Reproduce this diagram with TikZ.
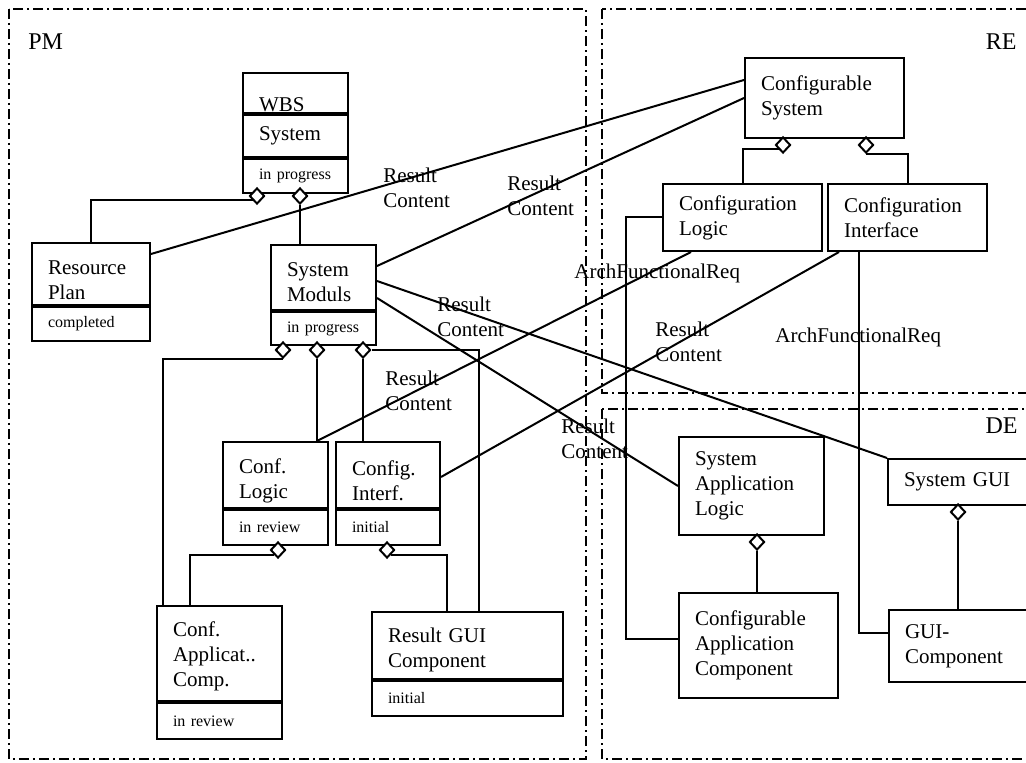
\documentclass[tikz,border=0pt]{standalone}
\usepackage{fontspec}
\setmainfont{Liberation Serif}
\usetikzlibrary{positioning,calc,shapes.geometric}
\newcommand{\boxfont}{\fontsize{10.5}{12.5}\selectfont}
\newcommand{\statfont}{\fontsize{8}{9.6}\selectfont}
\newcommand{\zonefont}{\fontsize{12}{14}\selectfont}

\begin{document}
\begin{tikzpicture}[
  x=0.5pt, y=-0.5pt,
  box/.style={draw, line width=1pt, anchor=north west, align=left,
    inner xsep=8pt, inner ysep=0pt, font=\boxfont},
  cpt/.style={box, execute at begin node={\rule{0pt}{#1}}},
  stat/.style={box, font=\statfont},
  agg/.style={draw, diamond, fill=white, line width=1pt, inner sep=0pt,
    minimum width=7.5pt, minimum height=8pt},
  lnk/.style={line width=1pt},
  lbl/.style={anchor=west, align=left, inner sep=0pt, font=\boxfont},
  frm/.style={line width=1pt, dash pattern=on 5pt off 2pt on 1pt off 2pt},
  zone/.style={font=\zonefont, inner sep=0pt}
]
\useasboundingbox (0,0) rectangle (1026,763);
\clip (0,0) rectangle (1026,763);

% ── Areas ────────────────────────────────────────────────────────────────
\draw[frm] (9,9) rectangle (586,759);
\draw[frm] (602,9) rectangle (1040,393);
\draw[frm] (602,409) rectangle (1040,759);
\node[zone, anchor=west] (pm) at (28,42) {PM};
\node[zone, anchor=east] (re) at (1017,42) {RE};
\node[zone, anchor=east] (de) at (1018,426) {DE};

% ── PM: work breakdown ───────────────────────────────────────────────────
\node[box, text width=36.5pt, minimum height=20pt, text height=19pt,
  text depth=0pt] (wbsT) at (242,72) {WBS};
\node[box, text width=36.5pt, minimum height=21pt] (wbs) at (wbsT.south west) {System};
\node[stat, text width=36.5pt, minimum height=17pt] (wbsS) at (wbs.south west) {in progress};

\node[cpt=13pt, text width=43pt, minimum height=31pt] (rp) at (31,242) {Resource\\Plan};
\node[stat, text width=43pt, minimum height=17pt] (rpS) at (rp.south west) {completed};

\node[cpt=12pt, text width=36.5pt, minimum height=32.5pt] (sm) at (270,244) {System\\Moduls};
\node[stat, text width=36.5pt, minimum height=16.5pt] (smS) at (sm.south west) {in progress};

\node[cpt=13.2pt, text width=36.5pt, minimum height=33pt] (cl) at (222,441) {Conf.\\Logic};
\node[stat, text width=36.5pt, minimum height=17.5pt] (clS) at (cl.south west) {in review};

\node[cpt=13.2pt, text width=36pt, minimum height=33pt] (ci) at (335,441) {Config.\\Interf.};
\node[stat, text width=36pt, minimum height=17.5pt] (ciS) at (ci.south west) {initial};

\node[cpt=10.2pt, text width=46.5pt, minimum height=47.5pt] (caa) at (156,605) {Conf.\\Applicat..\\Comp.};
\node[stat, text width=46.5pt, minimum height=18pt] (caaS) at (caa.south west) {in review};

\node[cpt=12.2pt, text width=79.5pt, minimum height=33.5pt] (rg) at (371,611) {Result GUI\\Component};
\node[stat, text width=79.5pt, minimum height=17.5pt] (rgS) at (rg.south west) {initial};

% ── RE: requirements ─────────────────────────────────────────────────────
\node[box, text width=63.5pt, minimum height=40pt] (cs) at (744,57) {Configurable\\System};
\node[box, text width=63.5pt, minimum height=33.5pt] (confl) at (662,183) {Configuration\\Logic};
\node[box, text width=63.5pt, minimum height=33.5pt] (confi) at (827,183) {Configuration\\Interface};

% ── DE: design ───────────────────────────────────────────────────────────
\node[box, text width=56.5pt, minimum height=49pt] (sal) at (678,436) {System\\Application\\Logic};
\node[box, text width=63.5pt, minimum height=52.5pt] (cac) at (678,592) {Configurable\\Application\\Component};
\node[box, text width=64pt, minimum height=23pt] (sg) at (887,458) {System GUI};
\node[box, text width=64pt, minimum height=36pt] (gc) at (888,609) {GUI-\\Component};

% ── Aggregations ─────────────────────────────────────────────────────────
\node[agg] (dW1) at (257,196) {};
\node[agg] (dW2) at (300,196) {};
\node[agg] (dS1) at (283,350) {};
\node[agg] (dS2) at (317,350) {};
\node[agg] (dS3) at (363,350) {};
\node[agg] (dL) at (278,550) {};
\node[agg] (dI) at (387,550) {};
\node[agg] (dC1) at (783,145) {};
\node[agg] (dC2) at (866,145) {};
\node[agg] (dA) at (757,542) {};
\node[agg] (dG) at (958,512) {};

\draw[lnk] (dW1.south west) -| (rp.north);
\draw[lnk] (dW2.south) -- (dW2.south |- sm.north);
\draw[lnk] (dS1.south) -| ($(caa.north west)+(7,0)$);
\draw[lnk] (dS2.south) -- (dS2.south |- cl.north);
\draw[lnk] (dS3.south) -- (dS3.south |- ci.north);
\draw[lnk] (dS3.east) -| ($(rg.north west)+(108,0)$);
\draw[lnk] (dL.south west) -| ($(caa.north west)+(34,0)$);
\draw[lnk] (dI.south east) -| ($(rg.north west)+(76,0)$);
\draw[lnk] (dC1.south west) -| (confl.north);
\draw[lnk] (dC2.south) -| (confi.north);
\draw[lnk] (dA.south) -- (dA.south |- cac.north);
\draw[lnk] (dG.south) -- (dG.south |- gc.north);

% ── Traces between areas ─────────────────────────────────────────────────
\draw[lnk] (confl.west) -- ++(-36,0) |- ($(cac.west)+(0,-7)$);
\draw[lnk] ($(confi.south west)+(32,0)$) |- ($(gc.west)+(0,-13)$);
\draw[lnk] ($(rp.north east)+(0,12)$) -- ($(cs.north west)+(0,23)$);
\draw[lnk] ($(sm.north east)+(0,22)$) -- (cs.west);
\draw[lnk] ($(sm.north east)+(0,37)$) -- (sg.north west);
\draw[lnk] ($(sm.north east)+(0,54)$) -- (sal.west);
\draw[lnk] (dS2.south |- cl.north) -- ($(confl.south west)+(29,0)$);
\draw[lnk] ($(ci.north east)+(0,36)$) -- ($(confi.south west)+(12,0)$);

\node[lbl] (lR1) at (383,188) {Result\\Content};
\node[lbl] (lR2) at (507,196) {Result\\Content};
\node[lbl] (lR3) at (437,317) {Result\\Content};
\node[lbl] (lR4) at (561,439) {Result\\Content};
\node[lbl] (lR5) at (385,391) {Result\\Content};
\node[lbl] (lR6) at (655,342) {Result\\Content};
\node[lbl] (lA1) at (574,273) {ArchFunctionalReq};
\node[lbl] (lA2) at (775,337) {ArchFunctionalReq};

\end{tikzpicture}
\end{document}
